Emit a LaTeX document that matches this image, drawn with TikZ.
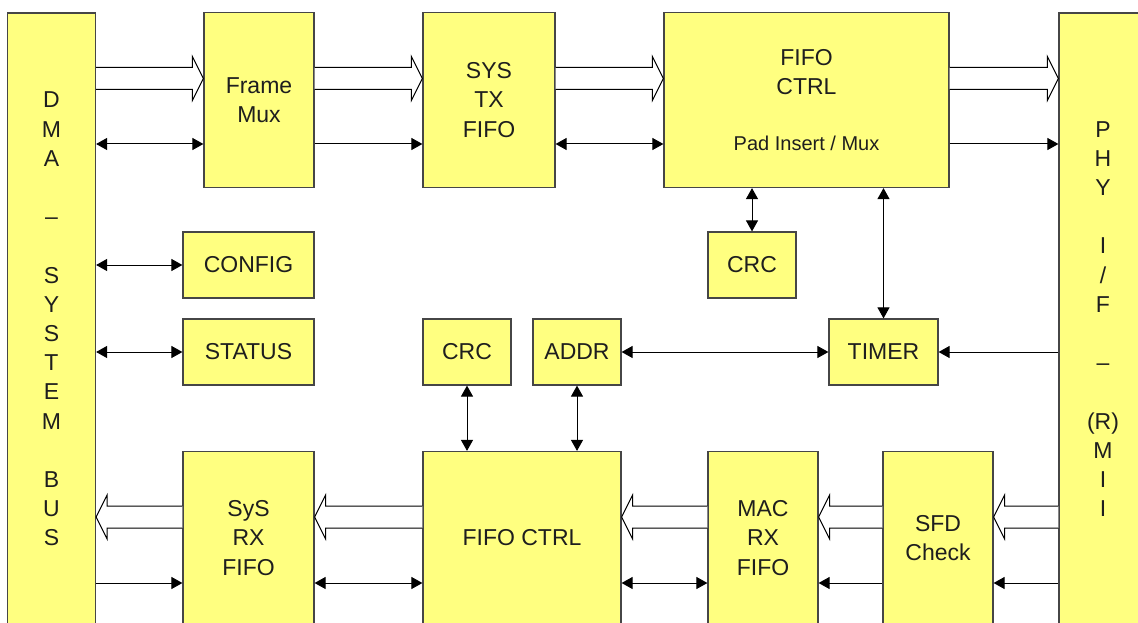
\documentclass[tikz,border=0pt]{standalone}
\usepackage{fontspec}
\setmainfont{Liberation Sans}
\usepackage{tikz}
\usetikzlibrary{calc, arrows.meta}

\definecolor{blkfill}{RGB}{255,255,128}
\definecolor{blkline}{RGB}{70,70,70}
\definecolor{txtcol}{RGB}{30,30,30}

\tikzset{
    blk/.style={draw=blkline, fill=blkfill, line width=1.2pt, inner sep=0pt,
        align=center, text=txtcol, font=\fontsize{23}{29.2}\selectfont},
    sig/.style={line width=1pt, draw=black},
    bus/.style={draw=black, fill=white, line width=1pt}
}

% 寬匯流排箭頭: #1 起點方塊, #2 終點方塊, #3 高度
\newcommand{\busR}[3]{%
    \draw[bus] ($(#1.east |- 0,#3)+(0,-11)$) -- ($(#2.west |- 0,#3)+(-11,-11)$)
        -- ++(0,-11) -- (#2.west |- 0,#3) -- ++(-11,22) -- ++(0,-11)
        -- ($(#1.east |- 0,#3)+(0,11)$);}
\newcommand{\busL}[3]{%
    \draw[bus] ($(#1.west |- 0,#3)+(0,-11)$) -- ($(#2.east |- 0,#3)+(11,-11)$)
        -- ++(0,-11) -- (#2.east |- 0,#3) -- ++(11,22) -- ++(0,-11)
        -- ($(#1.west |- 0,#3)+(0,11)$);}

\begin{document}
\begin{tikzpicture}[x=1pt, y=-1pt, >={Triangle[length=11pt, width=12pt]}]
    \useasboundingbox (0,0) rectangle (1138,623);
    \clip (0,0) rectangle (1138,623);

    % --- 1. 兩側匯流排 ---
    \node[blk, minimum width=88pt, minimum height=612pt] (dma) at (51.5,319)
        {D\\M\\A\\\mbox{}\\–\\\mbox{}\\S\\Y\\S\\T\\E\\M\\\mbox{}\\B\\U\\S};
    \node[blk, minimum width=88pt, minimum height=612pt] (phy) at (1103,319)
        {P\\H\\Y\\\mbox{}\\I\\/\\F\\\mbox{}\\–\\\mbox{}\\(R)\\M\\I\\I};

    % --- 2. 上排 (TX) ---
    \node[blk, minimum width=110pt, minimum height=175pt] (fmux) at (259,100) {Frame\\Mux};
    \node[blk, minimum width=132pt, minimum height=175pt] (systx) at (489,100) {SYS\\TX\\FIFO};
    \node[blk, minimum width=285pt, minimum height=175pt] (fctrlt) at (806.5,100)
        {FIFO\\CTRL\\[27pt]{\fontsize{20}{24}\selectfont Pad Insert / Mux}};

    % --- 3. 中間小方塊 ---
    \node[blk, minimum width=131pt, minimum height=66pt] (config) at (248.5,265) {CONFIG};
    \node[blk, minimum width=131pt, minimum height=66pt] (status) at (248.5,352) {STATUS};
    \node[blk, minimum width=88pt, minimum height=66pt] (crct) at (752,265) {CRC};
    \node[blk, minimum width=88pt, minimum height=66pt] (crcb) at (467,352) {CRC};
    \node[blk, minimum width=88pt, minimum height=66pt] (addr) at (577,352) {ADDR};
    \node[blk, minimum width=109pt, minimum height=66pt] (timer) at (883.5,352) {TIMER};

    % --- 4. 下排 (RX) ---
    \node[blk, minimum width=131pt, minimum height=173pt] (sysrx) at (248.5,538) {SyS\\RX\\FIFO};
    \node[blk, minimum width=198pt, minimum height=173pt] (fctrlb) at (522,538) {FIFO CTRL};
    \node[blk, minimum width=110pt, minimum height=173pt] (macrx) at (763,538) {MAC\\RX\\FIFO};
    \node[blk, minimum width=110pt, minimum height=173pt] (sfd) at (938,538) {SFD\\Check};

    % --- 5. 上排連線 ---
    \busR{dma}{fmux}{78.5}
    \busR{fmux}{systx}{78.5}
    \busR{systx}{fctrlt}{78.5}
    \busR{fctrlt}{phy}{78.5}
    \draw[sig, <->] (dma.east |- 0,144) -- (fmux.west |- 0,144);
    \draw[sig, ->] (fmux.east |- 0,144) -- (systx.west |- 0,144);
    \draw[sig, <->] (systx.east |- 0,144) -- (fctrlt.west |- 0,144);
    \draw[sig, ->] (fctrlt.east |- 0,144) -- (phy.west |- 0,144);

    % --- 6. 中間連線 ---
    \draw[sig, <->] (dma.east |- config.west) -- (config.west);
    \draw[sig, <->] (dma.east |- status.west) -- (status.west);
    \draw[sig, <->] (crct.north |- fctrlt.south) -- (crct.north);
    \draw[sig, <->] (timer.north |- fctrlt.south) -- (timer.north);
    \draw[sig, <->] (addr.east) -- (timer.west);
    \draw[sig, ->] (phy.west |- timer.east) -- (timer.east);
    \draw[sig, <->] (crcb.south) -- (crcb.south |- fctrlb.north);
    \draw[sig, <->] (addr.south) -- (addr.south |- fctrlb.north);

    % --- 7. 下排連線 ---
    \busL{phy}{sfd}{517}
    \busL{sfd}{macrx}{517}
    \busL{macrx}{fctrlb}{517}
    \busL{fctrlb}{sysrx}{517}
    \busL{sysrx}{dma}{517}
    \draw[sig, ->] (dma.east |- 0,583) -- (sysrx.west |- 0,583);
    \draw[sig, <->] (sysrx.east |- 0,583) -- (fctrlb.west |- 0,583);
    \draw[sig, <->] (fctrlb.east |- 0,583) -- (macrx.west |- 0,583);
    \draw[sig, <-] (macrx.east |- 0,583) -- (sfd.west |- 0,583);
    \draw[sig, <-] (sfd.east |- 0,583) -- (phy.west |- 0,583);
\end{tikzpicture}
\end{document}
